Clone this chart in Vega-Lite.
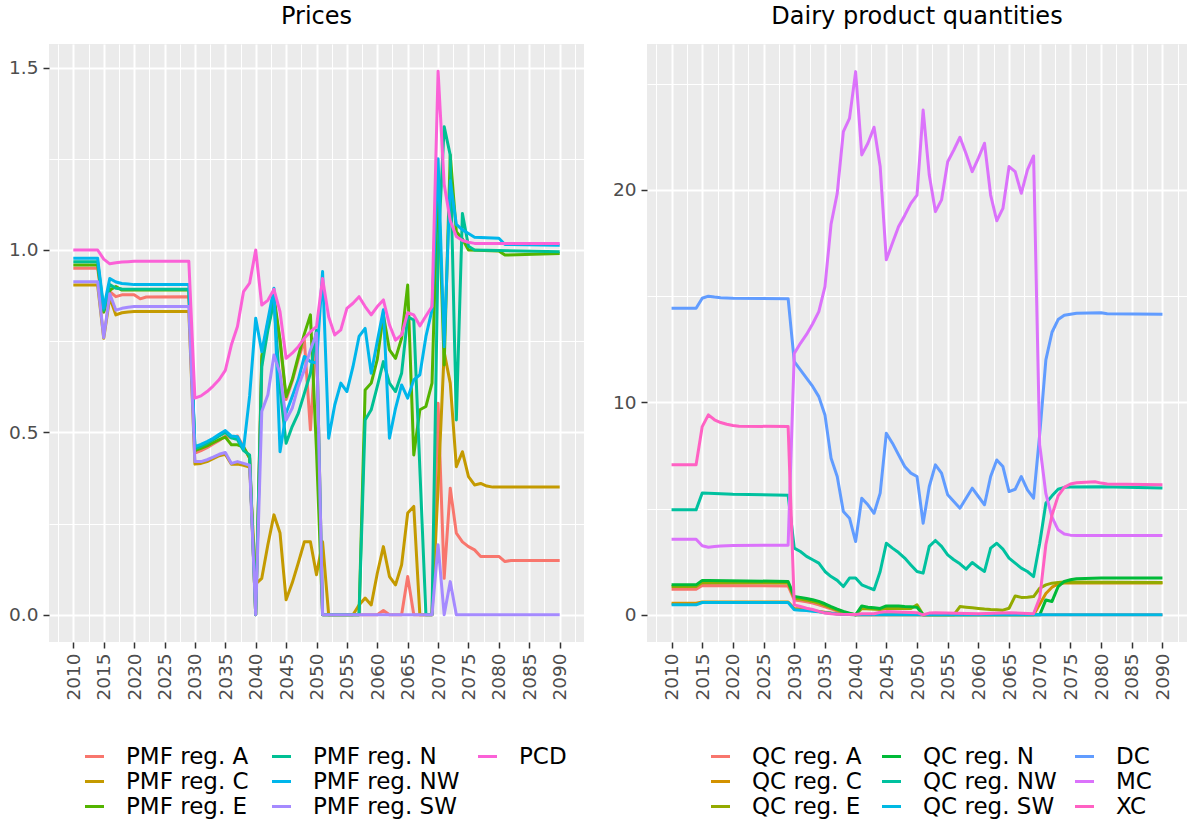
{
"$schema":"https://vega.github.io/schema/vega-lite/v6.json",
"background":"white",
"padding":{"left":8,"top":5,"right":0,"bottom":0},
"datasets":{
"p":[
{"t":2010,"s":"PMF reg. A","v":0.95},{"t":2014,"s":"PMF reg. A","v":0.95},{"t":2015,"s":"PMF reg. A","v":0.83},{"t":2016,"s":"PMF reg. A","v":0.886},{"t":2017,"s":"PMF reg. A","v":0.872},{"t":2018,"s":"PMF reg. A","v":0.877},{"t":2020,"s":"PMF reg. A","v":0.877},{"t":2021,"s":"PMF reg. A","v":0.866},{"t":2022,"s":"PMF reg. A","v":0.871},{"t":2029,"s":"PMF reg. A","v":0.872},{"t":2030,"s":"PMF reg. A","v":0.443},{"t":2031,"s":"PMF reg. A","v":0.45},{"t":2032,"s":"PMF reg. A","v":0.458},{"t":2033,"s":"PMF reg. A","v":0.468},{"t":2034,"s":"PMF reg. A","v":0.478},{"t":2035,"s":"PMF reg. A","v":0.49},{"t":2036,"s":"PMF reg. A","v":0.485},{"t":2037,"s":"PMF reg. A","v":0.49},{"t":2038,"s":"PMF reg. A","v":0.46},{"t":2039,"s":"PMF reg. A","v":0.43},{"t":2040,"s":"PMF reg. A","v":0},{"t":2041,"s":"PMF reg. A","v":0.7},{"t":2042,"s":"PMF reg. A","v":0.79},{"t":2043,"s":"PMF reg. A","v":0.86},{"t":2044,"s":"PMF reg. A","v":0.75},{"t":2045,"s":"PMF reg. A","v":0.59},{"t":2046,"s":"PMF reg. A","v":0.64},{"t":2047,"s":"PMF reg. A","v":0.7},{"t":2048,"s":"PMF reg. A","v":0.753},{"t":2049,"s":"PMF reg. A","v":0.507},{"t":2050,"s":"PMF reg. A","v":0.78},{"t":2051,"s":"PMF reg. A","v":0},{"t":2060,"s":"PMF reg. A","v":0},{"t":2061,"s":"PMF reg. A","v":0.012},{"t":2062,"s":"PMF reg. A","v":0},{"t":2064,"s":"PMF reg. A","v":0},{"t":2065,"s":"PMF reg. A","v":0.105},{"t":2066,"s":"PMF reg. A","v":0},{"t":2069,"s":"PMF reg. A","v":0},{"t":2070,"s":"PMF reg. A","v":0.58},{"t":2071,"s":"PMF reg. A","v":0.1},{"t":2072,"s":"PMF reg. A","v":0.347},{"t":2073,"s":"PMF reg. A","v":0.224},{"t":2074,"s":"PMF reg. A","v":0.2},{"t":2075,"s":"PMF reg. A","v":0.187},{"t":2076,"s":"PMF reg. A","v":0.178},{"t":2077,"s":"PMF reg. A","v":0.16},{"t":2080,"s":"PMF reg. A","v":0.16},{"t":2081,"s":"PMF reg. A","v":0.146},{"t":2082,"s":"PMF reg. A","v":0.149},{"t":2090,"s":"PMF reg. A","v":0.149},
{"t":2010,"s":"PMF reg. C","v":0.904},{"t":2014,"s":"PMF reg. C","v":0.904},{"t":2015,"s":"PMF reg. C","v":0.758},{"t":2016,"s":"PMF reg. C","v":0.87},{"t":2017,"s":"PMF reg. C","v":0.822},{"t":2018,"s":"PMF reg. C","v":0.828},{"t":2019,"s":"PMF reg. C","v":0.83},{"t":2020,"s":"PMF reg. C","v":0.831},{"t":2029,"s":"PMF reg. C","v":0.831},{"t":2030,"s":"PMF reg. C","v":0.413},{"t":2031,"s":"PMF reg. C","v":0.415},{"t":2032,"s":"PMF reg. C","v":0.42},{"t":2033,"s":"PMF reg. C","v":0.428},{"t":2034,"s":"PMF reg. C","v":0.436},{"t":2035,"s":"PMF reg. C","v":0.44},{"t":2036,"s":"PMF reg. C","v":0.413},{"t":2037,"s":"PMF reg. C","v":0.413},{"t":2038,"s":"PMF reg. C","v":0.41},{"t":2039,"s":"PMF reg. C","v":0.405},{"t":2040,"s":"PMF reg. C","v":0.085},{"t":2041,"s":"PMF reg. C","v":0.1},{"t":2042,"s":"PMF reg. C","v":0.192},{"t":2043,"s":"PMF reg. C","v":0.274},{"t":2044,"s":"PMF reg. C","v":0.224},{"t":2045,"s":"PMF reg. C","v":0.041},{"t":2046,"s":"PMF reg. C","v":0.087},{"t":2047,"s":"PMF reg. C","v":0.142},{"t":2048,"s":"PMF reg. C","v":0.2},{"t":2049,"s":"PMF reg. C","v":0.2},{"t":2050,"s":"PMF reg. C","v":0.11},{"t":2051,"s":"PMF reg. C","v":0.2},{"t":2052,"s":"PMF reg. C","v":0},{"t":2056,"s":"PMF reg. C","v":0},{"t":2057,"s":"PMF reg. C","v":0.027},{"t":2058,"s":"PMF reg. C","v":0.046},{"t":2059,"s":"PMF reg. C","v":0.027},{"t":2060,"s":"PMF reg. C","v":0.114},{"t":2061,"s":"PMF reg. C","v":0.187},{"t":2062,"s":"PMF reg. C","v":0.105},{"t":2063,"s":"PMF reg. C","v":0.082},{"t":2064,"s":"PMF reg. C","v":0.137},{"t":2065,"s":"PMF reg. C","v":0.279},{"t":2066,"s":"PMF reg. C","v":0.297},{"t":2067,"s":"PMF reg. C","v":0},{"t":2069,"s":"PMF reg. C","v":0},{"t":2070,"s":"PMF reg. C","v":0.35},{"t":2071,"s":"PMF reg. C","v":0.72},{"t":2072,"s":"PMF reg. C","v":0.635},{"t":2073,"s":"PMF reg. C","v":0.406},{"t":2074,"s":"PMF reg. C","v":0.447},{"t":2075,"s":"PMF reg. C","v":0.379},{"t":2076,"s":"PMF reg. C","v":0.356},{"t":2077,"s":"PMF reg. C","v":0.36},{"t":2078,"s":"PMF reg. C","v":0.353},{"t":2079,"s":"PMF reg. C","v":0.35},{"t":2090,"s":"PMF reg. C","v":0.35},
{"t":2010,"s":"PMF reg. E","v":0.959},{"t":2014,"s":"PMF reg. E","v":0.959},{"t":2015,"s":"PMF reg. E","v":0.83},{"t":2016,"s":"PMF reg. E","v":0.89},{"t":2017,"s":"PMF reg. E","v":0.9},{"t":2018,"s":"PMF reg. E","v":0.89},{"t":2029,"s":"PMF reg. E","v":0.89},{"t":2030,"s":"PMF reg. E","v":0.45},{"t":2031,"s":"PMF reg. E","v":0.456},{"t":2032,"s":"PMF reg. E","v":0.463},{"t":2033,"s":"PMF reg. E","v":0.472},{"t":2034,"s":"PMF reg. E","v":0.48},{"t":2035,"s":"PMF reg. E","v":0.487},{"t":2036,"s":"PMF reg. E","v":0.466},{"t":2037,"s":"PMF reg. E","v":0.466},{"t":2038,"s":"PMF reg. E","v":0.46},{"t":2039,"s":"PMF reg. E","v":0.43},{"t":2040,"s":"PMF reg. E","v":0},{"t":2041,"s":"PMF reg. E","v":0.71},{"t":2042,"s":"PMF reg. E","v":0.8},{"t":2043,"s":"PMF reg. E","v":0.872},{"t":2044,"s":"PMF reg. E","v":0.753},{"t":2045,"s":"PMF reg. E","v":0.598},{"t":2046,"s":"PMF reg. E","v":0.644},{"t":2047,"s":"PMF reg. E","v":0.708},{"t":2048,"s":"PMF reg. E","v":0.77},{"t":2049,"s":"PMF reg. E","v":0.822},{"t":2050,"s":"PMF reg. E","v":0.45},{"t":2051,"s":"PMF reg. E","v":0},{"t":2057,"s":"PMF reg. E","v":0},{"t":2058,"s":"PMF reg. E","v":0.616},{"t":2059,"s":"PMF reg. E","v":0.635},{"t":2060,"s":"PMF reg. E","v":0.7},{"t":2061,"s":"PMF reg. E","v":0.822},{"t":2062,"s":"PMF reg. E","v":0.726},{"t":2063,"s":"PMF reg. E","v":0.703},{"t":2064,"s":"PMF reg. E","v":0.758},{"t":2065,"s":"PMF reg. E","v":0.904},{"t":2066,"s":"PMF reg. E","v":0.438},{"t":2067,"s":"PMF reg. E","v":0.562},{"t":2068,"s":"PMF reg. E","v":0.571},{"t":2069,"s":"PMF reg. E","v":0.635},{"t":2070,"s":"PMF reg. E","v":1.2},{"t":2071,"s":"PMF reg. E","v":0.685},{"t":2072,"s":"PMF reg. E","v":1.26},{"t":2073,"s":"PMF reg. E","v":1.05},{"t":2074,"s":"PMF reg. E","v":1.03},{"t":2075,"s":"PMF reg. E","v":1.0},{"t":2080,"s":"PMF reg. E","v":0.997},{"t":2081,"s":"PMF reg. E","v":0.986},{"t":2090,"s":"PMF reg. E","v":0.99},
{"t":2010,"s":"PMF reg. N","v":0.968},{"t":2014,"s":"PMF reg. N","v":0.968},{"t":2015,"s":"PMF reg. N","v":0.835},{"t":2016,"s":"PMF reg. N","v":0.905},{"t":2017,"s":"PMF reg. N","v":0.895},{"t":2018,"s":"PMF reg. N","v":0.893},{"t":2029,"s":"PMF reg. N","v":0.892},{"t":2030,"s":"PMF reg. N","v":0.455},{"t":2031,"s":"PMF reg. N","v":0.462},{"t":2032,"s":"PMF reg. N","v":0.47},{"t":2033,"s":"PMF reg. N","v":0.48},{"t":2034,"s":"PMF reg. N","v":0.49},{"t":2035,"s":"PMF reg. N","v":0.5},{"t":2036,"s":"PMF reg. N","v":0.485},{"t":2037,"s":"PMF reg. N","v":0.48},{"t":2038,"s":"PMF reg. N","v":0.45},{"t":2039,"s":"PMF reg. N","v":0.438},{"t":2040,"s":"PMF reg. N","v":0},{"t":2041,"s":"PMF reg. N","v":0.68},{"t":2042,"s":"PMF reg. N","v":0.78},{"t":2043,"s":"PMF reg. N","v":0.86},{"t":2044,"s":"PMF reg. N","v":0.62},{"t":2045,"s":"PMF reg. N","v":0.47},{"t":2046,"s":"PMF reg. N","v":0.516},{"t":2047,"s":"PMF reg. N","v":0.552},{"t":2048,"s":"PMF reg. N","v":0.607},{"t":2049,"s":"PMF reg. N","v":0.662},{"t":2050,"s":"PMF reg. N","v":0.78},{"t":2051,"s":"PMF reg. N","v":0},{"t":2057,"s":"PMF reg. N","v":0},{"t":2058,"s":"PMF reg. N","v":0.534},{"t":2059,"s":"PMF reg. N","v":0.562},{"t":2060,"s":"PMF reg. N","v":0.626},{"t":2061,"s":"PMF reg. N","v":0.694},{"t":2062,"s":"PMF reg. N","v":0.635},{"t":2063,"s":"PMF reg. N","v":0.612},{"t":2064,"s":"PMF reg. N","v":0.662},{"t":2065,"s":"PMF reg. N","v":0.817},{"t":2066,"s":"PMF reg. N","v":0.808},{"t":2067,"s":"PMF reg. N","v":0.4},{"t":2068,"s":"PMF reg. N","v":0},{"t":2069,"s":"PMF reg. N","v":0},{"t":2070,"s":"PMF reg. N","v":1.0},{"t":2071,"s":"PMF reg. N","v":1.338},{"t":2072,"s":"PMF reg. N","v":1.26},{"t":2073,"s":"PMF reg. N","v":0.534},{"t":2074,"s":"PMF reg. N","v":1.1},{"t":2075,"s":"PMF reg. N","v":1.01},{"t":2076,"s":"PMF reg. N","v":1.0},{"t":2090,"s":"PMF reg. N","v":0.995},
{"t":2010,"s":"PMF reg. NW","v":0.977},{"t":2014,"s":"PMF reg. NW","v":0.977},{"t":2015,"s":"PMF reg. NW","v":0.84},{"t":2016,"s":"PMF reg. NW","v":0.922},{"t":2017,"s":"PMF reg. NW","v":0.912},{"t":2018,"s":"PMF reg. NW","v":0.908},{"t":2019,"s":"PMF reg. NW","v":0.907},{"t":2020,"s":"PMF reg. NW","v":0.905},{"t":2029,"s":"PMF reg. NW","v":0.905},{"t":2030,"s":"PMF reg. NW","v":0.461},{"t":2031,"s":"PMF reg. NW","v":0.467},{"t":2032,"s":"PMF reg. NW","v":0.475},{"t":2033,"s":"PMF reg. NW","v":0.484},{"t":2034,"s":"PMF reg. NW","v":0.495},{"t":2035,"s":"PMF reg. NW","v":0.505},{"t":2036,"s":"PMF reg. NW","v":0.49},{"t":2037,"s":"PMF reg. NW","v":0.488},{"t":2038,"s":"PMF reg. NW","v":0.455},{"t":2039,"s":"PMF reg. NW","v":0.6},{"t":2040,"s":"PMF reg. NW","v":0.813},{"t":2041,"s":"PMF reg. NW","v":0.721},{"t":2042,"s":"PMF reg. NW","v":0.808},{"t":2043,"s":"PMF reg. NW","v":0.895},{"t":2044,"s":"PMF reg. NW","v":0.447},{"t":2045,"s":"PMF reg. NW","v":0.553},{"t":2046,"s":"PMF reg. NW","v":0.598},{"t":2047,"s":"PMF reg. NW","v":0.644},{"t":2048,"s":"PMF reg. NW","v":0.708},{"t":2049,"s":"PMF reg. NW","v":0.694},{"t":2050,"s":"PMF reg. NW","v":0.69},{"t":2051,"s":"PMF reg. NW","v":0.941},{"t":2052,"s":"PMF reg. NW","v":0.484},{"t":2053,"s":"PMF reg. NW","v":0.575},{"t":2054,"s":"PMF reg. NW","v":0.635},{"t":2055,"s":"PMF reg. NW","v":0.612},{"t":2056,"s":"PMF reg. NW","v":0.68},{"t":2057,"s":"PMF reg. NW","v":0.763},{"t":2058,"s":"PMF reg. NW","v":0.785},{"t":2059,"s":"PMF reg. NW","v":0.662},{"t":2060,"s":"PMF reg. NW","v":0.75},{"t":2061,"s":"PMF reg. NW","v":0.836},{"t":2062,"s":"PMF reg. NW","v":0.484},{"t":2063,"s":"PMF reg. NW","v":0.566},{"t":2064,"s":"PMF reg. NW","v":0.63},{"t":2065,"s":"PMF reg. NW","v":0.594},{"t":2066,"s":"PMF reg. NW","v":0.644},{"t":2067,"s":"PMF reg. NW","v":0.658},{"t":2068,"s":"PMF reg. NW","v":0.763},{"t":2069,"s":"PMF reg. NW","v":0.836},{"t":2070,"s":"PMF reg. NW","v":1.25},{"t":2071,"s":"PMF reg. NW","v":0.735},{"t":2072,"s":"PMF reg. NW","v":1.19},{"t":2073,"s":"PMF reg. NW","v":1.07},{"t":2074,"s":"PMF reg. NW","v":1.055},{"t":2075,"s":"PMF reg. NW","v":1.045},{"t":2076,"s":"PMF reg. NW","v":1.035},{"t":2080,"s":"PMF reg. NW","v":1.032},{"t":2081,"s":"PMF reg. NW","v":1.015},{"t":2090,"s":"PMF reg. NW","v":1.013},
{"t":2010,"s":"PMF reg. SW","v":0.913},{"t":2014,"s":"PMF reg. SW","v":0.913},{"t":2015,"s":"PMF reg. SW","v":0.76},{"t":2016,"s":"PMF reg. SW","v":0.88},{"t":2017,"s":"PMF reg. SW","v":0.835},{"t":2018,"s":"PMF reg. SW","v":0.84},{"t":2019,"s":"PMF reg. SW","v":0.843},{"t":2020,"s":"PMF reg. SW","v":0.845},{"t":2029,"s":"PMF reg. SW","v":0.845},{"t":2030,"s":"PMF reg. SW","v":0.42},{"t":2031,"s":"PMF reg. SW","v":0.42},{"t":2032,"s":"PMF reg. SW","v":0.425},{"t":2033,"s":"PMF reg. SW","v":0.432},{"t":2034,"s":"PMF reg. SW","v":0.44},{"t":2035,"s":"PMF reg. SW","v":0.445},{"t":2036,"s":"PMF reg. SW","v":0.415},{"t":2037,"s":"PMF reg. SW","v":0.42},{"t":2038,"s":"PMF reg. SW","v":0.415},{"t":2039,"s":"PMF reg. SW","v":0.41},{"t":2040,"s":"PMF reg. SW","v":0},{"t":2041,"s":"PMF reg. SW","v":0.557},{"t":2042,"s":"PMF reg. SW","v":0.603},{"t":2043,"s":"PMF reg. SW","v":0.712},{"t":2044,"s":"PMF reg. SW","v":0.662},{"t":2045,"s":"PMF reg. SW","v":0.534},{"t":2046,"s":"PMF reg. SW","v":0.566},{"t":2047,"s":"PMF reg. SW","v":0.626},{"t":2048,"s":"PMF reg. SW","v":0.671},{"t":2049,"s":"PMF reg. SW","v":0.726},{"t":2050,"s":"PMF reg. SW","v":0.772},{"t":2051,"s":"PMF reg. SW","v":0},{"t":2069,"s":"PMF reg. SW","v":0},{"t":2070,"s":"PMF reg. SW","v":0.192},{"t":2071,"s":"PMF reg. SW","v":0},{"t":2072,"s":"PMF reg. SW","v":0.091},{"t":2073,"s":"PMF reg. SW","v":0},{"t":2090,"s":"PMF reg. SW","v":0},
{"t":2010,"s":"PCD","v":1.0},{"t":2014,"s":"PCD","v":1.0},{"t":2015,"s":"PCD","v":0.975},{"t":2016,"s":"PCD","v":0.962},{"t":2017,"s":"PCD","v":0.965},{"t":2018,"s":"PCD","v":0.967},{"t":2019,"s":"PCD","v":0.968},{"t":2020,"s":"PCD","v":0.969},{"t":2029,"s":"PCD","v":0.969},{"t":2030,"s":"PCD","v":0.594},{"t":2031,"s":"PCD","v":0.6},{"t":2032,"s":"PCD","v":0.612},{"t":2033,"s":"PCD","v":0.627},{"t":2034,"s":"PCD","v":0.645},{"t":2035,"s":"PCD","v":0.67},{"t":2036,"s":"PCD","v":0.74},{"t":2037,"s":"PCD","v":0.79},{"t":2038,"s":"PCD","v":0.886},{"t":2039,"s":"PCD","v":0.909},{"t":2040,"s":"PCD","v":1.0},{"t":2041,"s":"PCD","v":0.849},{"t":2042,"s":"PCD","v":0.862},{"t":2043,"s":"PCD","v":0.892},{"t":2044,"s":"PCD","v":0.831},{"t":2045,"s":"PCD","v":0.703},{"t":2046,"s":"PCD","v":0.717},{"t":2047,"s":"PCD","v":0.735},{"t":2048,"s":"PCD","v":0.758},{"t":2049,"s":"PCD","v":0.776},{"t":2050,"s":"PCD","v":0.79},{"t":2051,"s":"PCD","v":0.922},{"t":2052,"s":"PCD","v":0.817},{"t":2053,"s":"PCD","v":0.767},{"t":2054,"s":"PCD","v":0.781},{"t":2055,"s":"PCD","v":0.84},{"t":2056,"s":"PCD","v":0.854},{"t":2057,"s":"PCD","v":0.872},{"t":2058,"s":"PCD","v":0.845},{"t":2059,"s":"PCD","v":0.822},{"t":2060,"s":"PCD","v":0.845},{"t":2061,"s":"PCD","v":0.863},{"t":2062,"s":"PCD","v":0.795},{"t":2063,"s":"PCD","v":0.753},{"t":2064,"s":"PCD","v":0.767},{"t":2065,"s":"PCD","v":0.828},{"t":2066,"s":"PCD","v":0.822},{"t":2067,"s":"PCD","v":0.792},{"t":2068,"s":"PCD","v":0.819},{"t":2069,"s":"PCD","v":0.845},{"t":2070,"s":"PCD","v":1.49},{"t":2071,"s":"PCD","v":1.18},{"t":2072,"s":"PCD","v":1.08},{"t":2073,"s":"PCD","v":1.037},{"t":2074,"s":"PCD","v":1.026},{"t":2075,"s":"PCD","v":1.021},{"t":2076,"s":"PCD","v":1.018},{"t":2090,"s":"PCD","v":1.018}
],
"q":[
{"t":2010,"s":"QC reg. A","v":1.2},{"t":2014,"s":"QC reg. A","v":1.2},{"t":2015,"s":"QC reg. A","v":1.38},{"t":2029,"s":"QC reg. A","v":1.36},{"t":2030,"s":"QC reg. A","v":0.7},{"t":2031,"s":"QC reg. A","v":0.66},{"t":2032,"s":"QC reg. A","v":0.61},{"t":2033,"s":"QC reg. A","v":0.55},{"t":2034,"s":"QC reg. A","v":0.47},{"t":2035,"s":"QC reg. A","v":0.38},{"t":2036,"s":"QC reg. A","v":0.28},{"t":2037,"s":"QC reg. A","v":0.18},{"t":2038,"s":"QC reg. A","v":0.1},{"t":2039,"s":"QC reg. A","v":0.04},{"t":2040,"s":"QC reg. A","v":0},{"t":2090,"s":"QC reg. A","v":0},
{"t":2010,"s":"QC reg. C","v":0.55},{"t":2014,"s":"QC reg. C","v":0.55},{"t":2015,"s":"QC reg. C","v":0.6},{"t":2029,"s":"QC reg. C","v":0.6},{"t":2030,"s":"QC reg. C","v":0.3},{"t":2031,"s":"QC reg. C","v":0.27},{"t":2032,"s":"QC reg. C","v":0.24},{"t":2033,"s":"QC reg. C","v":0.2},{"t":2034,"s":"QC reg. C","v":0.16},{"t":2035,"s":"QC reg. C","v":0.12},{"t":2036,"s":"QC reg. C","v":0.08},{"t":2037,"s":"QC reg. C","v":0.05},{"t":2038,"s":"QC reg. C","v":0.03},{"t":2039,"s":"QC reg. C","v":0.01},{"t":2040,"s":"QC reg. C","v":0},{"t":2069,"s":"QC reg. C","v":0},{"t":2070,"s":"QC reg. C","v":0.5},{"t":2071,"s":"QC reg. C","v":1.0},{"t":2072,"s":"QC reg. C","v":1.3},{"t":2073,"s":"QC reg. C","v":1.45},{"t":2074,"s":"QC reg. C","v":1.5},{"t":2090,"s":"QC reg. C","v":1.5},
{"t":2010,"s":"QC reg. E","v":1.33},{"t":2014,"s":"QC reg. E","v":1.33},{"t":2015,"s":"QC reg. E","v":1.52},{"t":2029,"s":"QC reg. E","v":1.5},{"t":2030,"s":"QC reg. E","v":0.78},{"t":2031,"s":"QC reg. E","v":0.74},{"t":2032,"s":"QC reg. E","v":0.69},{"t":2033,"s":"QC reg. E","v":0.63},{"t":2034,"s":"QC reg. E","v":0.55},{"t":2035,"s":"QC reg. E","v":0.45},{"t":2036,"s":"QC reg. E","v":0.33},{"t":2037,"s":"QC reg. E","v":0.22},{"t":2038,"s":"QC reg. E","v":0.12},{"t":2039,"s":"QC reg. E","v":0.05},{"t":2040,"s":"QC reg. E","v":0},{"t":2041,"s":"QC reg. E","v":0.3},{"t":2044,"s":"QC reg. E","v":0.25},{"t":2045,"s":"QC reg. E","v":0.3},{"t":2049,"s":"QC reg. E","v":0.3},{"t":2050,"s":"QC reg. E","v":0.47},{"t":2051,"s":"QC reg. E","v":0},{"t":2056,"s":"QC reg. E","v":0},{"t":2057,"s":"QC reg. E","v":0.39},{"t":2058,"s":"QC reg. E","v":0.36},{"t":2059,"s":"QC reg. E","v":0.33},{"t":2060,"s":"QC reg. E","v":0.3},{"t":2061,"s":"QC reg. E","v":0.27},{"t":2062,"s":"QC reg. E","v":0.25},{"t":2063,"s":"QC reg. E","v":0.24},{"t":2064,"s":"QC reg. E","v":0.22},{"t":2065,"s":"QC reg. E","v":0.31},{"t":2066,"s":"QC reg. E","v":0.89},{"t":2067,"s":"QC reg. E","v":0.82},{"t":2068,"s":"QC reg. E","v":0.83},{"t":2069,"s":"QC reg. E","v":0.86},{"t":2070,"s":"QC reg. E","v":1.25},{"t":2071,"s":"QC reg. E","v":1.41},{"t":2072,"s":"QC reg. E","v":1.49},{"t":2073,"s":"QC reg. E","v":1.52},{"t":2074,"s":"QC reg. E","v":1.54},{"t":2090,"s":"QC reg. E","v":1.52},
{"t":2010,"s":"QC reg. N","v":1.41},{"t":2014,"s":"QC reg. N","v":1.41},{"t":2015,"s":"QC reg. N","v":1.62},{"t":2016,"s":"QC reg. N","v":1.62},{"t":2029,"s":"QC reg. N","v":1.57},{"t":2030,"s":"QC reg. N","v":0.86},{"t":2031,"s":"QC reg. N","v":0.82},{"t":2032,"s":"QC reg. N","v":0.77},{"t":2033,"s":"QC reg. N","v":0.71},{"t":2034,"s":"QC reg. N","v":0.63},{"t":2035,"s":"QC reg. N","v":0.52},{"t":2036,"s":"QC reg. N","v":0.39},{"t":2037,"s":"QC reg. N","v":0.27},{"t":2038,"s":"QC reg. N","v":0.16},{"t":2039,"s":"QC reg. N","v":0.08},{"t":2040,"s":"QC reg. N","v":0},{"t":2041,"s":"QC reg. N","v":0.42},{"t":2042,"s":"QC reg. N","v":0.36},{"t":2043,"s":"QC reg. N","v":0.33},{"t":2044,"s":"QC reg. N","v":0.3},{"t":2045,"s":"QC reg. N","v":0.42},{"t":2046,"s":"QC reg. N","v":0.42},{"t":2047,"s":"QC reg. N","v":0.41},{"t":2048,"s":"QC reg. N","v":0.39},{"t":2049,"s":"QC reg. N","v":0.38},{"t":2050,"s":"QC reg. N","v":0.35},{"t":2051,"s":"QC reg. N","v":0},{"t":2070,"s":"QC reg. N","v":0},{"t":2071,"s":"QC reg. N","v":0.7},{"t":2072,"s":"QC reg. N","v":0.63},{"t":2073,"s":"QC reg. N","v":1.33},{"t":2074,"s":"QC reg. N","v":1.57},{"t":2075,"s":"QC reg. N","v":1.65},{"t":2076,"s":"QC reg. N","v":1.7},{"t":2080,"s":"QC reg. N","v":1.73},{"t":2090,"s":"QC reg. N","v":1.73},
{"t":2010,"s":"QC reg. NW","v":4.94},{"t":2014,"s":"QC reg. NW","v":4.94},{"t":2015,"s":"QC reg. NW","v":5.73},{"t":2016,"s":"QC reg. NW","v":5.72},{"t":2020,"s":"QC reg. NW","v":5.67},{"t":2029,"s":"QC reg. NW","v":5.63},{"t":2030,"s":"QC reg. NW","v":3.14},{"t":2031,"s":"QC reg. NW","v":2.98},{"t":2032,"s":"QC reg. NW","v":2.75},{"t":2033,"s":"QC reg. NW","v":2.59},{"t":2034,"s":"QC reg. NW","v":2.43},{"t":2035,"s":"QC reg. NW","v":2.04},{"t":2036,"s":"QC reg. NW","v":1.8},{"t":2037,"s":"QC reg. NW","v":1.62},{"t":2038,"s":"QC reg. NW","v":1.33},{"t":2039,"s":"QC reg. NW","v":1.73},{"t":2040,"s":"QC reg. NW","v":1.73},{"t":2041,"s":"QC reg. NW","v":1.41},{"t":2042,"s":"QC reg. NW","v":1.29},{"t":2043,"s":"QC reg. NW","v":1.18},{"t":2044,"s":"QC reg. NW","v":2.04},{"t":2045,"s":"QC reg. NW","v":3.37},{"t":2046,"s":"QC reg. NW","v":3.14},{"t":2047,"s":"QC reg. NW","v":2.93},{"t":2048,"s":"QC reg. NW","v":2.67},{"t":2049,"s":"QC reg. NW","v":2.35},{"t":2050,"s":"QC reg. NW","v":2.04},{"t":2051,"s":"QC reg. NW","v":1.96},{"t":2052,"s":"QC reg. NW","v":3.22},{"t":2053,"s":"QC reg. NW","v":3.5},{"t":2054,"s":"QC reg. NW","v":3.22},{"t":2055,"s":"QC reg. NW","v":2.82},{"t":2056,"s":"QC reg. NW","v":2.59},{"t":2057,"s":"QC reg. NW","v":2.4},{"t":2058,"s":"QC reg. NW","v":2.15},{"t":2059,"s":"QC reg. NW","v":2.46},{"t":2060,"s":"QC reg. NW","v":2.24},{"t":2061,"s":"QC reg. NW","v":2.04},{"t":2062,"s":"QC reg. NW","v":3.14},{"t":2063,"s":"QC reg. NW","v":3.37},{"t":2064,"s":"QC reg. NW","v":3.09},{"t":2065,"s":"QC reg. NW","v":2.67},{"t":2066,"s":"QC reg. NW","v":2.43},{"t":2067,"s":"QC reg. NW","v":2.2},{"t":2068,"s":"QC reg. NW","v":2.04},{"t":2069,"s":"QC reg. NW","v":1.8},{"t":2070,"s":"QC reg. NW","v":3.37},{"t":2071,"s":"QC reg. NW","v":5.25},{"t":2072,"s":"QC reg. NW","v":5.6},{"t":2073,"s":"QC reg. NW","v":5.91},{"t":2074,"s":"QC reg. NW","v":6.0},{"t":2075,"s":"QC reg. NW","v":6.02},{"t":2080,"s":"QC reg. NW","v":6.03},{"t":2090,"s":"QC reg. NW","v":5.97},
{"t":2010,"s":"QC reg. SW","v":0.47},{"t":2014,"s":"QC reg. SW","v":0.47},{"t":2015,"s":"QC reg. SW","v":0.58},{"t":2029,"s":"QC reg. SW","v":0.58},{"t":2030,"s":"QC reg. SW","v":0.24},{"t":2031,"s":"QC reg. SW","v":0.22},{"t":2032,"s":"QC reg. SW","v":0.2},{"t":2033,"s":"QC reg. SW","v":0.17},{"t":2034,"s":"QC reg. SW","v":0.14},{"t":2035,"s":"QC reg. SW","v":0.1},{"t":2036,"s":"QC reg. SW","v":0.07},{"t":2037,"s":"QC reg. SW","v":0.04},{"t":2038,"s":"QC reg. SW","v":0.02},{"t":2039,"s":"QC reg. SW","v":0.01},{"t":2040,"s":"QC reg. SW","v":0},{"t":2090,"s":"QC reg. SW","v":0},
{"t":2010,"s":"DC","v":14.43},{"t":2014,"s":"DC","v":14.43},{"t":2015,"s":"DC","v":14.9},{"t":2016,"s":"DC","v":15.0},{"t":2017,"s":"DC","v":14.96},{"t":2018,"s":"DC","v":14.93},{"t":2020,"s":"DC","v":14.9},{"t":2029,"s":"DC","v":14.88},{"t":2030,"s":"DC","v":11.92},{"t":2031,"s":"DC","v":11.53},{"t":2032,"s":"DC","v":11.14},{"t":2033,"s":"DC","v":10.75},{"t":2034,"s":"DC","v":10.27},{"t":2035,"s":"DC","v":9.41},{"t":2036,"s":"DC","v":7.37},{"t":2037,"s":"DC","v":6.51},{"t":2038,"s":"DC","v":4.86},{"t":2039,"s":"DC","v":4.55},{"t":2040,"s":"DC","v":3.45},{"t":2041,"s":"DC","v":5.49},{"t":2042,"s":"DC","v":5.18},{"t":2043,"s":"DC","v":4.78},{"t":2044,"s":"DC","v":5.73},{"t":2045,"s":"DC","v":8.55},{"t":2046,"s":"DC","v":8.08},{"t":2047,"s":"DC","v":7.53},{"t":2048,"s":"DC","v":6.98},{"t":2049,"s":"DC","v":6.67},{"t":2050,"s":"DC","v":6.51},{"t":2051,"s":"DC","v":4.31},{"t":2052,"s":"DC","v":6.04},{"t":2053,"s":"DC","v":7.06},{"t":2054,"s":"DC","v":6.67},{"t":2055,"s":"DC","v":5.65},{"t":2056,"s":"DC","v":5.33},{"t":2057,"s":"DC","v":5.02},{"t":2058,"s":"DC","v":5.49},{"t":2059,"s":"DC","v":5.96},{"t":2060,"s":"DC","v":5.57},{"t":2061,"s":"DC","v":5.18},{"t":2062,"s":"DC","v":6.51},{"t":2063,"s":"DC","v":7.29},{"t":2064,"s":"DC","v":6.98},{"t":2065,"s":"DC","v":5.8},{"t":2066,"s":"DC","v":5.91},{"t":2067,"s":"DC","v":6.51},{"t":2068,"s":"DC","v":5.88},{"t":2069,"s":"DC","v":5.49},{"t":2070,"s":"DC","v":8.5},{"t":2071,"s":"DC","v":12.0},{"t":2072,"s":"DC","v":13.3},{"t":2073,"s":"DC","v":13.9},{"t":2074,"s":"DC","v":14.1},{"t":2075,"s":"DC","v":14.15},{"t":2076,"s":"DC","v":14.2},{"t":2080,"s":"DC","v":14.22},{"t":2081,"s":"DC","v":14.17},{"t":2090,"s":"DC","v":14.15},
{"t":2010,"s":"MC","v":3.56},{"t":2014,"s":"MC","v":3.56},{"t":2015,"s":"MC","v":3.25},{"t":2016,"s":"MC","v":3.18},{"t":2017,"s":"MC","v":3.22},{"t":2018,"s":"MC","v":3.24},{"t":2020,"s":"MC","v":3.26},{"t":2029,"s":"MC","v":3.28},{"t":2030,"s":"MC","v":12.3},{"t":2031,"s":"MC","v":12.78},{"t":2032,"s":"MC","v":13.2},{"t":2033,"s":"MC","v":13.7},{"t":2034,"s":"MC","v":14.27},{"t":2035,"s":"MC","v":15.45},{"t":2036,"s":"MC","v":18.4},{"t":2037,"s":"MC","v":19.84},{"t":2038,"s":"MC","v":22.75},{"t":2039,"s":"MC","v":23.37},{"t":2040,"s":"MC","v":25.57},{"t":2041,"s":"MC","v":21.65},{"t":2042,"s":"MC","v":22.2},{"t":2043,"s":"MC","v":22.95},{"t":2044,"s":"MC","v":21.1},{"t":2045,"s":"MC","v":16.71},{"t":2046,"s":"MC","v":17.5},{"t":2047,"s":"MC","v":18.28},{"t":2048,"s":"MC","v":18.8},{"t":2049,"s":"MC","v":19.37},{"t":2050,"s":"MC","v":19.76},{"t":2051,"s":"MC","v":23.76},{"t":2052,"s":"MC","v":20.7},{"t":2053,"s":"MC","v":18.98},{"t":2054,"s":"MC","v":19.53},{"t":2055,"s":"MC","v":21.33},{"t":2056,"s":"MC","v":21.88},{"t":2057,"s":"MC","v":22.48},{"t":2058,"s":"MC","v":21.7},{"t":2059,"s":"MC","v":20.86},{"t":2060,"s":"MC","v":21.5},{"t":2061,"s":"MC","v":22.2},{"t":2062,"s":"MC","v":19.76},{"t":2063,"s":"MC","v":18.55},{"t":2064,"s":"MC","v":19.13},{"t":2065,"s":"MC","v":21.1},{"t":2066,"s":"MC","v":20.86},{"t":2067,"s":"MC","v":19.84},{"t":2068,"s":"MC","v":20.94},{"t":2069,"s":"MC","v":21.6},{"t":2070,"s":"MC","v":8.0},{"t":2071,"s":"MC","v":5.7},{"t":2072,"s":"MC","v":4.6},{"t":2073,"s":"MC","v":4.0},{"t":2074,"s":"MC","v":3.8},{"t":2075,"s":"MC","v":3.75},{"t":2076,"s":"MC","v":3.73},{"t":2090,"s":"MC","v":3.73},
{"t":2010,"s":"XC","v":7.06},{"t":2014,"s":"XC","v":7.06},{"t":2015,"s":"XC","v":8.86},{"t":2016,"s":"XC","v":9.41},{"t":2017,"s":"XC","v":9.18},{"t":2018,"s":"XC","v":9.05},{"t":2019,"s":"XC","v":8.97},{"t":2020,"s":"XC","v":8.91},{"t":2021,"s":"XC","v":8.88},{"t":2029,"s":"XC","v":8.86},{"t":2030,"s":"XC","v":0.47},{"t":2031,"s":"XC","v":0.39},{"t":2032,"s":"XC","v":0.31},{"t":2033,"s":"XC","v":0.25},{"t":2034,"s":"XC","v":0.16},{"t":2035,"s":"XC","v":0.08},{"t":2036,"s":"XC","v":0.05},{"t":2037,"s":"XC","v":0.03},{"t":2040,"s":"XC","v":0.02},{"t":2041,"s":"XC","v":0.05},{"t":2043,"s":"XC","v":0.05},{"t":2044,"s":"XC","v":0.12},{"t":2045,"s":"XC","v":0.15},{"t":2050,"s":"XC","v":0.1},{"t":2051,"s":"XC","v":0.0},{"t":2052,"s":"XC","v":0.08},{"t":2053,"s":"XC","v":0.1},{"t":2060,"s":"XC","v":0.05},{"t":2065,"s":"XC","v":0.1},{"t":2069,"s":"XC","v":0.05},{"t":2070,"s":"XC","v":0.8},{"t":2071,"s":"XC","v":3.3},{"t":2072,"s":"XC","v":4.7},{"t":2073,"s":"XC","v":5.6},{"t":2074,"s":"XC","v":6.0},{"t":2075,"s":"XC","v":6.16},{"t":2076,"s":"XC","v":6.22},{"t":2079,"s":"XC","v":6.26},{"t":2080,"s":"XC","v":6.2},{"t":2081,"s":"XC","v":6.16},{"t":2090,"s":"XC","v":6.12}
]
},
"spacing":63,
"bounds":"flush",
"hconcat":[
{
"width":535,"height":598,
"title":{"text":"Prices"},
"data":{"name":"p"},
"encoding":{
"x":{"field":"t","type":"quantitative","title":null,"scale":{"domain":[2006,2094],"nice":false,"zero":false},
"axis":{"title":null,"values":[2007.5,2010,2012.5,2015,2017.5,2020,2022.5,2025,2027.5,2030,2032.5,2035,2037.5,2040,2042.5,2045,2047.5,2050,2052.5,2055,2057.5,2060,2062.5,2065,2067.5,2070,2072.5,2075,2077.5,2080,2082.5,2085,2087.5,2090,2092.5],"format":"d","labelAngle":-90,"labelExpr":"datum.value % 5 === 0 ? datum.label : ''","tickOpacity":{"condition":{"test":"datum.value % 5 !== 0","value":0},"value":1},"gridWidth":{"condition":{"test":"datum.value % 5 === 0","value":2},"value":1}}},
"y":{"field":"v","type":"quantitative","title":null,"scale":{"domain":[-0.0745,1.5645],"nice":false,"zero":false},
"axis":{"title":null,"values":[0,0.25,0.5,0.75,1,1.25,1.5],"format":".1f","labelExpr":"(datum.value*4) % 2 === 0 ? datum.label : ''","tickOpacity":{"condition":{"test":"(datum.value*4) % 2 !== 0","value":0},"value":1},"gridWidth":{"condition":{"test":"(datum.value*4) % 2 === 0","value":2},"value":1}}}
},
"layer":[
{"transform":[{"filter":{"field":"s","oneOf":["PMF reg. A","PMF reg. C","PMF reg. E"]}}],
"mark":{"type":"line","strokeWidth":3,"strokeJoin":"round"},
"encoding":{"color":{"field":"s","type":"nominal","scale":{"domain":["PMF reg. A","PMF reg. C","PMF reg. E"],"range":["#F8766D","#C49A00","#53B400"]},"legend":{"title":null,"orient":"none","legendX":34,"legendY":701}}}},
{"transform":[{"filter":{"field":"s","oneOf":["PMF reg. N","PMF reg. NW","PMF reg. SW"]}}],
"mark":{"type":"line","strokeWidth":3,"strokeJoin":"round"},
"encoding":{"color":{"field":"s","type":"nominal","scale":{"domain":["PMF reg. N","PMF reg. NW","PMF reg. SW"],"range":["#00C094","#00B6EB","#A58AFF"]},"legend":{"title":null,"orient":"none","legendX":221,"legendY":701}}}},
{"transform":[{"filter":{"field":"s","oneOf":["PCD"]}}],
"mark":{"type":"line","strokeWidth":3,"strokeJoin":"round"},
"encoding":{"color":{"field":"s","type":"nominal","scale":{"domain":["PCD"],"range":["#FB61D7"]},"legend":{"title":null,"orient":"none","legendX":427,"legendY":701}}}}
],
"resolve":{"scale":{"color":"independent"}}
},
{
"width":540,"height":598,
"title":{"text":"Dairy product quantities"},
"data":{"name":"q"},
"encoding":{
"x":{"field":"t","type":"quantitative","title":null,"scale":{"domain":[2006,2094],"nice":false,"zero":false},
"axis":{"title":null,"values":[2007.5,2010,2012.5,2015,2017.5,2020,2022.5,2025,2027.5,2030,2032.5,2035,2037.5,2040,2042.5,2045,2047.5,2050,2052.5,2055,2057.5,2060,2062.5,2065,2067.5,2070,2072.5,2075,2077.5,2080,2082.5,2085,2087.5,2090,2092.5],"format":"d","labelAngle":-90,"labelExpr":"datum.value % 5 === 0 ? datum.label : ''","tickOpacity":{"condition":{"test":"datum.value % 5 !== 0","value":0},"value":1},"gridWidth":{"condition":{"test":"datum.value % 5 === 0","value":2},"value":1}}},
"y":{"field":"v","type":"quantitative","title":null,"scale":{"domain":[-1.28,26.87],"nice":false,"zero":false},
"axis":{"title":null,"values":[0,5,10,15,20,25],"format":"d","labelExpr":"datum.value % 10 === 0 ? datum.label : ''","tickOpacity":{"condition":{"test":"datum.value % 10 !== 0","value":0},"value":1},"gridWidth":{"condition":{"test":"datum.value % 10 === 0","value":2},"value":1}}}
},
"layer":[
{"transform":[{"filter":{"field":"s","oneOf":["QC reg. A","QC reg. C","QC reg. E"]}}],
"mark":{"type":"line","strokeWidth":3,"strokeJoin":"round"},
"encoding":{"color":{"field":"s","type":"nominal","scale":{"domain":["QC reg. A","QC reg. C","QC reg. E"],"range":["#F8766D","#D39200","#93AA00"]},"legend":{"title":null,"orient":"none","legendX":62,"legendY":701}}}},
{"transform":[{"filter":{"field":"s","oneOf":["QC reg. N","QC reg. NW","QC reg. SW"]}}],
"mark":{"type":"line","strokeWidth":3,"strokeJoin":"round"},
"encoding":{"color":{"field":"s","type":"nominal","scale":{"domain":["QC reg. N","QC reg. NW","QC reg. SW"],"range":["#00BA38","#00C19F","#00B9E3"]},"legend":{"title":null,"orient":"none","legendX":233,"legendY":701}}}},
{"transform":[{"filter":{"field":"s","oneOf":["DC","MC","XC"]}}],
"mark":{"type":"line","strokeWidth":3,"strokeJoin":"round"},
"encoding":{"color":{"field":"s","type":"nominal","scale":{"domain":["DC","MC","XC"],"range":["#619CFF","#DB72FB","#FF61C3"]},"legend":{"title":null,"orient":"none","legendX":426,"legendY":701}}}}
],
"resolve":{"scale":{"color":"independent"}}
}
],
"config":{
"font":"DejaVu Sans",
"view":{"fill":"#EBEBEB","stroke":null},
"axis":{"domain":false,"gridColor":"#FFFFFF","gridOpacity":1,"tickColor":"#333333","tickWidth":1.5,"tickSize":6,"labelPadding":5,"labelFont":"DejaVu Sans","labelFontSize":18.5,"labelColor":"#4D4D4D"},
"title":{"font":"DejaVu Sans","fontSize":24,"fontWeight":"normal","color":"#000000","anchor":"middle","offset":15},
"legend":{"direction":"vertical","labelFont":"DejaVu Sans","labelFontSize":23,"labelColor":"#000000","labelLimit":400,"symbolType":"stroke","symbolSize":361,"symbolStrokeWidth":3,"rowPadding":1,"labelOffset":20,"padding":0}
}
}
